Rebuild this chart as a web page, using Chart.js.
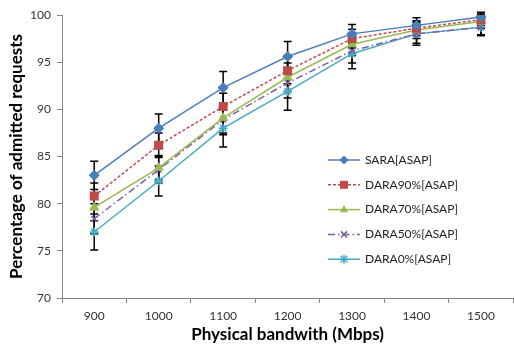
<!DOCTYPE html>
<html>
<head>
<meta charset="utf-8">
<script src="https://cdn.jsdelivr.net/npm/chart.js@4/dist/chart.umd.min.js"></script>
<style>
  html, body { margin: 0; padding: 0; background: #fff; overflow: hidden; }
  #wrap { width: 520px; height: 345px; position: relative; }
  #admitChart { display: block; }
</style>
</head>
<body>
<div id="wrap"><canvas id="admitChart" width="520" height="345"></canvas></div>
<script>
// --- data ---
const categories = ['900', '1000', '1100', '1200', '1300', '1400', '1500'];

const sara   = [83.0, 88.0, 92.3, 95.6, 98.0, 98.9, 99.8];
const dara90 = [80.8, 86.2, 90.3, 94.1, 97.5, 98.6, 99.5];
const dara70 = [79.6, 83.8, 89.1, 93.4, 96.9, 98.4, 99.3];
const dara50 = [78.4, 83.6, 88.9, 92.8, 96.2, 98.0, 98.7];
const dara0  = [77.0, 82.4, 88.0, 91.9, 95.9, 98.0, 98.7];

// error bar half-widths (±)
const saraErr   = [1.5, 1.5, 1.7, 1.6, 1.0, 0.8, 0.5];
const dara90Err = [1.4, 1.3, 1.4, 1.4, 1.0, 0.8, 0.6];
const dara70Err = [1.4, 1.3, 1.6, 1.5, 1.2, 0.9, 0.7];
const dara50Err = [1.6, 1.4, 1.6, 1.6, 1.3, 1.0, 0.8];
const dara0Err  = [1.9, 1.6, 2.0, 2.0, 1.6, 1.2, 0.9];

const seriesNames = ['SARA[ASAP]', 'DARA90%[ASAP]', 'DARA70%[ASAP]', 'DARA50%[ASAP]', 'DARA0%[ASAP]'];
const yTicks = { min: 70, max: 100, step: 5 };

const FONT = 'Lato, "Open Sans", sans-serif';
const axisColor = '#868686';

// Error bars are drawn under the lines/markers, through the chart's own scales
const errorBarPlugin = {
    id: 'errorBars',
    beforeDatasetsDraw(chart) {
        const ctx = chart.ctx;
        const xs = chart.scales.x, ys = chart.scales.y;
        ctx.save();
        ctx.strokeStyle = '#000';
        ctx.lineWidth = 1.5;
        chart.data.datasets.forEach(ds => {
            ds.data.forEach((v, j) => {
                const e = ds.errors[j];
                const x = xs.getPixelForValue(j);
                const yT = ys.getPixelForValue(v + e);
                const yB = ys.getPixelForValue(v - e);
                ctx.beginPath();
                ctx.moveTo(x, yT); ctx.lineTo(x, yB);
                ctx.moveTo(x - 4, yT); ctx.lineTo(x + 4, yT);
                ctx.moveTo(x - 4, yB); ctx.lineTo(x + 4, yB);
                ctx.stroke();
            });
        });
        ctx.restore();
    }
};

// small marker shapes for the legend samples
function legendMarker(ctx, style, r, x, y) {
    ctx.beginPath();
    if (style === 'rectRot') {
        ctx.moveTo(x, y - r); ctx.lineTo(x + r, y); ctx.lineTo(x, y + r); ctx.lineTo(x - r, y);
        ctx.closePath(); ctx.fill();
    } else if (style === 'rect') {
        const s = r * 0.75;
        ctx.rect(x - s, y - s, 2 * s, 2 * s); ctx.fill();
    } else if (style === 'triangle') {
        ctx.moveTo(x, y - r); ctx.lineTo(x + r * 0.9, y + r * 0.6); ctx.lineTo(x - r * 0.9, y + r * 0.6);
        ctx.closePath(); ctx.fill();
    } else if (style === 'crossRot') {
        const s = r * 0.75;
        ctx.moveTo(x - s, y - s); ctx.lineTo(x + s, y + s);
        ctx.moveTo(x + s, y - s); ctx.lineTo(x - s, y + s);
        ctx.stroke();
    } else {
        const s = r * 0.75;
        ctx.moveTo(x - s, y - s); ctx.lineTo(x + s, y + s);
        ctx.moveTo(x + s, y - s); ctx.lineTo(x - s, y + s);
        ctx.moveTo(x, y - r); ctx.lineTo(x, y + r);
        ctx.moveTo(x - r, y); ctx.lineTo(x + r, y);
        ctx.stroke();
    }
}

// Legend sits inside the plot, lower right
const insideLegend = {
    id: 'insideLegend',
    afterDatasetsDraw(chart) {
        const ctx = chart.ctx;
        const area = chart.chartArea;
        const x0 = area.left + 266;
        const y0 = area.top + 145;
        const gap = 24.8;
        chart.data.datasets.forEach((ds, i) => {
            const y = y0 + i * gap;
            ctx.save();
            ctx.strokeStyle = ds.borderColor;
            ctx.fillStyle = ds.borderColor;
            ctx.lineWidth = 1.5;
            ctx.setLineDash(ds.borderDash);
            ctx.beginPath();
            ctx.moveTo(x0, y);
            ctx.lineTo(x0 + 32, y);
            ctx.stroke();
            ctx.setLineDash([]);
            legendMarker(ctx, ds.pointStyle, ds.pointRadius, x0 + 16, y);
            ctx.fillStyle = '#222';
            ctx.font = '12px ' + FONT;
            ctx.textBaseline = 'middle';
            ctx.textAlign = 'left';
            ctx.fillText(ds.label, x0 + 37, y);
            ctx.restore();
        });
    }
};

function makeSeries(label, data, errors, color, style, radius, dash) {
    return {
        label: label,
        data: data,
        errors: errors,
        borderColor: color,
        backgroundColor: color,
        pointBackgroundColor: color,
        pointBorderColor: color,
        pointStyle: style,
        pointRadius: radius,
        pointBorderWidth: 1.5,
        borderWidth: 1.5,
        borderDash: dash,
        tension: 0,
        fill: false
    };
}

new Chart(document.getElementById('admitChart'), {
    type: 'line',
    data: {
        labels: categories,
        datasets: [
            makeSeries(seriesNames[0], sara,   saraErr,   '#4A7EBB', 'rectRot',  4.5, []),
            makeSeries(seriesNames[1], dara90, dara90Err, '#BE4B48', 'rect',     5.3, [3, 2]),
            makeSeries(seriesNames[2], dara70, dara70Err, '#98B954', 'triangle', 4.5, []),
            makeSeries(seriesNames[3], dara50, dara50Err, '#7D60A0', 'crossRot', 4,   [7, 3, 1.5, 3]),
            makeSeries(seriesNames[4], dara0,  dara0Err,  '#46AAC5', 'star',     4.5, [])
        ]
    },
    options: {
        responsive: false,
        animation: false,
        devicePixelRatio: 1,
        layout: { padding: { top: 15, right: 0, left: 0, bottom: 0 } },
        plugins: {
            legend: { display: false },
            tooltip: { enabled: false }
        },
        scales: {
            x: {
                type: 'category',
                offset: true,
                grid: { drawOnChartArea: false, drawTicks: true, tickLength: 5, color: axisColor, offset: true },
                border: { color: axisColor, width: 1 },
                ticks: { color: '#333', font: { family: FONT, size: 12 }, padding: 6 },
                title: {
                    display: true,
                    text: 'Physical bandwith (Mbps)',
                    color: '#000',
                    font: { family: FONT, size: 17, weight: 'bold' },
                    padding: { top: 2, bottom: 0 }
                },
                afterFit: s => { s.height = 47; }
            },
            y: {
                min: yTicks.min,
                max: yTicks.max,
                grid: { drawOnChartArea: false, drawTicks: true, tickLength: 5, color: axisColor },
                border: { color: axisColor, width: 1 },
                ticks: { stepSize: yTicks.step, color: '#333', font: { family: FONT, size: 12 }, padding: 6 },
                title: {
                    display: true,
                    text: 'Percentage of admitted requests',
                    color: '#000',
                    font: { family: FONT, size: 17, weight: 'bold' },
                    padding: { top: 6, bottom: 0 }
                },
                afterFit: s => { s.width = 62; }
            }
        }
    },
    plugins: [errorBarPlugin, insideLegend]
});
</script>
</body>
</html>
